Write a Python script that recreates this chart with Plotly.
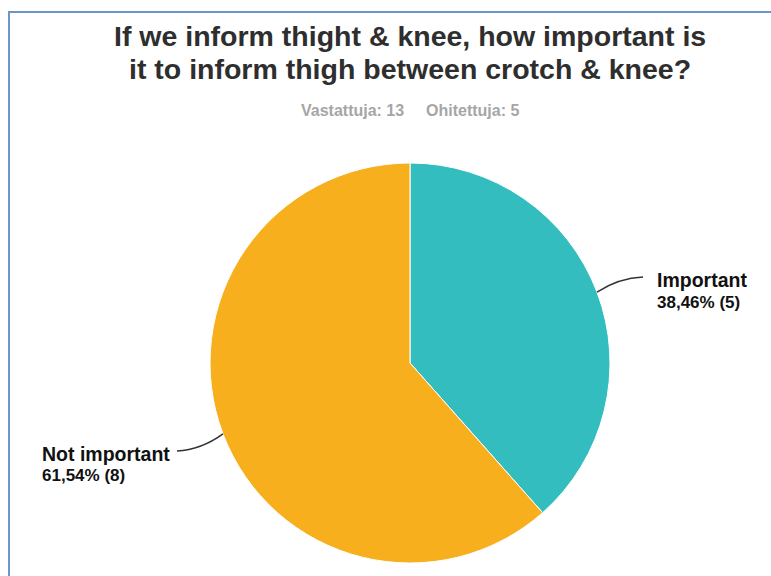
import math
import plotly.graph_objects as go

# Survey answers
categories = ["Important", "Not important"]
counts = [5, 8]
colors = ["#33BDBF", "#F7AF1E"]
answered = 13
skipped = 5
title_lines = ["If we inform thight & knee, how important is",
               "it to inform thigh between crotch & knee?"]

W, H = 771, 576
# pie box in pixels
PX0, PX1, PY0, PY1 = 210, 610, 163, 563
cx, cy, R = (PX0 + PX1) / 2, (PY0 + PY1) / 2, (PX1 - PX0) / 2
FONT = "Liberation Sans, Arial"


def px(x):
    return x / W


def py(y):
    return 1 - y / H


fig = go.Figure(go.Pie(
    labels=categories, values=counts, sort=False, direction="clockwise",
    rotation=0, marker=dict(colors=colors, line=dict(color="white", width=1)),
    textinfo="none", hoverinfo="label+percent+value", showlegend=False,
    domain=dict(x=[px(PX0), px(PX1)], y=[py(PY1), py(PY0)]),
))

total = sum(counts)
shapes = [dict(type="rect", xref="paper", yref="paper",
               x0=px(9), x1=1.05, y0=-0.05, y1=py(12),
               line=dict(color="#6d94cc", width=2), fillcolor="rgba(0,0,0,0)")]
annotations = []

# title
for i, line in enumerate(title_lines):
    annotations.append(dict(text=f"<b>{line}</b>", xref="paper", yref="paper",
                            x=px(410), y=py(36 + 33 * i), xanchor="center", yanchor="middle",
                            showarrow=False,
                            font=dict(family=FONT, size=28.5, color="#2e2e2e")))

# response counts
annotations.append(dict(text=f"<b>Vastattuja: {answered}</b>", xref="paper", yref="paper",
                        x=px(406), y=py(110), xanchor="right", yanchor="middle", showarrow=False,
                        font=dict(family=FONT, size=16, color="#a6a6a6")))
annotations.append(dict(text=f"<b>Ohitettuja: {skipped}</b>", xref="paper", yref="paper",
                        x=px(424), y=py(110), xanchor="left", yanchor="middle", showarrow=False,
                        font=dict(family=FONT, size=16, color="#a6a6a6")))

# outside labels with curved leader lines
cum = 0
for name, val in zip(categories, counts):
    mid = (cum + val / 2) / total * 2 * math.pi
    cum += val
    ex, ey = cx + R * math.sin(mid), cy - R * math.cos(mid)
    side = 1 if math.sin(mid) > 0 else -1
    tx, ty = ex + side * 46, ey - 15 if side > 0 else ey + 17
    ctrlx, ctrly = ex + side * 22, ty + (1 if side > 0 else -1)
    shapes.append(dict(type="path", xref="paper", yref="paper",
                       path=f"M {px(ex)} {py(ey)} Q {px(ctrlx)} {py(ctrly)} {px(tx)} {py(ty)}",
                       line=dict(color="#333333", width=1.5)))
    pct = f"{val / total * 100:.2f}".replace(".", ",")
    lx = tx + 12 if side > 0 else tx - 137
    annotations.append(dict(text=f"<b>{name}</b>", xref="paper", yref="paper",
                            x=px(lx), y=py(ty + 3), xanchor="left", yanchor="middle",
                            showarrow=False, align="left",
                            font=dict(family=FONT, size=19.5, color="#111111")))
    annotations.append(dict(text=f"<b>{pct}% ({val})</b>", xref="paper", yref="paper",
                            x=px(lx), y=py(ty + 25), xanchor="left", yanchor="middle",
                            showarrow=False, align="left",
                            font=dict(family=FONT, size=17, color="#111111")))

fig.update_layout(width=W, height=H, margin=dict(l=0, r=0, t=0, b=0),
                  paper_bgcolor="white", plot_bgcolor="white",
                  shapes=shapes, annotations=annotations)
fig.write_html("out.html")
